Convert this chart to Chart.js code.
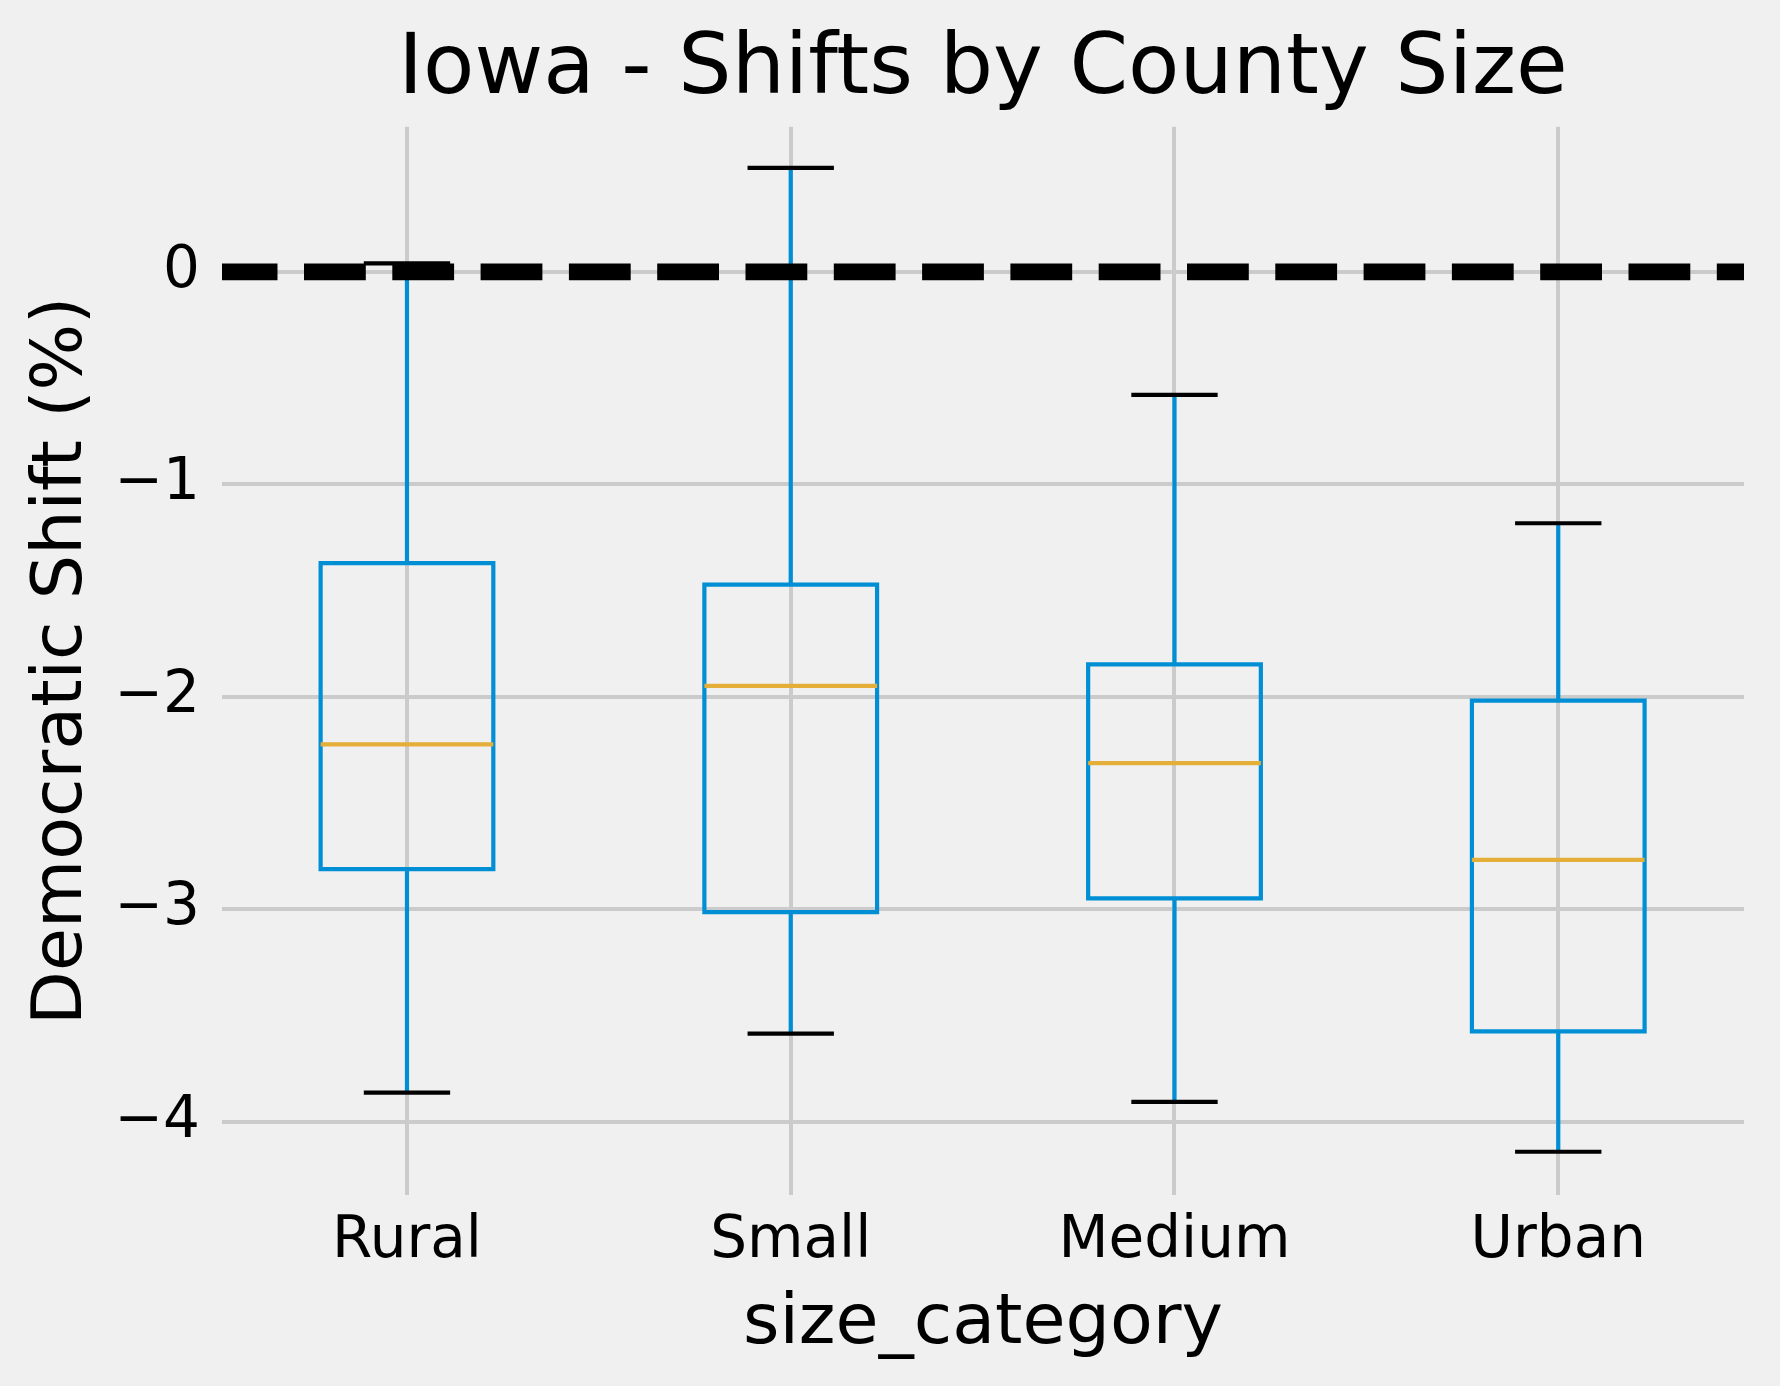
<!DOCTYPE html>
<html>
<head>
<meta charset="utf-8">
<script src="https://cdn.jsdelivr.net/npm/chart.js@4.4.1/dist/chart.umd.min.js"></script>
<style>
    html, body { margin: 0; padding: 0; background: #f0f0f0; }
    #wrap { width: 1780px; height: 1386px; }
</style>
</head>
<body>
<div id="wrap"><canvas id="grafico" width="1780" height="1386"></canvas></div>
<script>
    // box plot stats, one value per county size
    const categorias = ['Rural', 'Small', 'Medium', 'Urban'];
    const bigodeMin = [-3.863, -3.585, -3.906, -4.141];
    const q1 = [-2.811, -3.013, -2.948, -3.574];
    const mediana = [-2.224, -1.948, -2.312, -2.767];
    const q3 = [-1.371, -1.472, -1.847, -2.018];
    const bigodeMax = [0.04, 0.490, -0.579, -1.183];

    const yTicks = [-4, -3, -2, -1, 0];
    const linhaZero = 0;

    const xMin = 0.518, xMax = 4.484;
    const larguraCaixa = 0.45;

    Chart.defaults.font.family = "'DejaVu Sans', sans-serif";
    Chart.defaults.color = '#000';

    /* caixas, bigodes e medianas desenhados pelas escalas */
    const boxPlugin = {
        id: 'boxes',
        beforeDatasetsDraw(chart) {
            const ctx = chart.ctx;
            const xs = chart.scales.x, ys = chart.scales.y;
            ctx.save();
            ctx.lineWidth = 4.2;
            ctx.lineCap = 'butt';
            categorias.forEach((c, i) => {
                const pos = i + 1;
                const xl = xs.getPixelForValue(pos - larguraCaixa / 2);
                const xr = xs.getPixelForValue(pos + larguraCaixa / 2);
                const xc = xs.getPixelForValue(pos);
                const cl = xs.getPixelForValue(pos - larguraCaixa / 4);
                const cr = xs.getPixelForValue(pos + larguraCaixa / 4);
                const yLo = ys.getPixelForValue(bigodeMin[i]);
                const yQ1 = ys.getPixelForValue(q1[i]);
                const yMed = ys.getPixelForValue(mediana[i]);
                const yQ3 = ys.getPixelForValue(q3[i]);
                const yHi = ys.getPixelForValue(bigodeMax[i]);

                // whiskers
                ctx.strokeStyle = '#008fd5';
                ctx.beginPath();
                ctx.moveTo(xc, yQ1); ctx.lineTo(xc, yLo);
                ctx.moveTo(xc, yQ3); ctx.lineTo(xc, yHi);
                ctx.stroke();

                // box
                ctx.beginPath();
                ctx.rect(xl, yQ3, xr - xl, yQ1 - yQ3);
                ctx.stroke();

                // caps
                ctx.strokeStyle = '#000';
                ctx.beginPath();
                ctx.moveTo(cl, yLo); ctx.lineTo(cr, yLo);
                ctx.moveTo(cl, yHi); ctx.lineTo(cr, yHi);
                ctx.stroke();

                // median
                ctx.strokeStyle = '#e5ae38';
                ctx.beginPath();
                ctx.moveTo(xl, yMed); ctx.lineTo(xr, yMed);
                ctx.stroke();
            });
            ctx.restore();
        }
    };

    const ctx = document.getElementById('grafico');

    let chart = new Chart(ctx, {
        type: 'line',
        data: {
            datasets: [
                {
                    label: 'zero',
                    data: [{ x: xMin, y: linhaZero }, { x: xMax, y: linhaZero }],
                    borderColor: '#000',
                    borderWidth: 16.7,
                    borderDash: [61.8, 26.5],
                    borderDashOffset: 6.3,
                    borderCapStyle: 'butt',
                    pointRadius: 0,
                    fill: false
                }
            ]
        },
        plugins: [boxPlugin],
        options: {
            responsive: false,
            animation: false,
            layout: {
                padding: { left: 21, right: 36, top: 0, bottom: 19.5 }
            },
            plugins: {
                legend: { display: false },
                tooltip: { enabled: false },
                title: {
                    display: true,
                    text: 'Iowa - Shifts by County Size',
                    fullSize: false,
                    font: { size: 84, weight: 'normal' },
                    color: '#000',
                    padding: { top: 21, bottom: 5 }
                }
            },
            scales: {
                x: {
                    type: 'linear',
                    min: xMin,
                    max: xMax,
                    afterBuildTicks: (scale) => {
                        scale.ticks = categorias.map((c, i) => ({ value: i + 1 }));
                    },
                    ticks: {
                        autoSkip: false,
                        maxRotation: 0,
                        padding: 12,
                        font: { size: 58 },
                        color: '#000',
                        callback: (v) => categorias[v - 1]
                    },
                    grid: {
                        color: '#cbcbcb',
                        lineWidth: 4,
                        drawTicks: false
                    },
                    border: { display: false },
                    title: {
                        display: true,
                        text: 'size_category',
                        font: { size: 70 },
                        color: '#000',
                        padding: { top: -6, bottom: 0 }
                    }
                },
                y: {
                    min: -4.344,
                    max: 0.683,
                    afterBuildTicks: (scale) => {
                        scale.ticks = yTicks.map(v => ({ value: v }));
                    },
                    ticks: {
                        padding: 22,
                        font: { size: 58 },
                        color: '#000',
                        callback: (v) => v < 0 ? '\u2212' + Math.abs(v) : String(v)
                    },
                    grid: {
                        color: '#cbcbcb',
                        lineWidth: 4,
                        drawTicks: false
                    },
                    border: { display: false },
                    title: {
                        display: true,
                        text: 'Democratic Shift (%)',
                        font: { size: 70 },
                        color: '#000',
                        padding: { top: 0, bottom: -12.5 }
                    }
                }
            }
        }
    });
</script>
</body>
</html>
